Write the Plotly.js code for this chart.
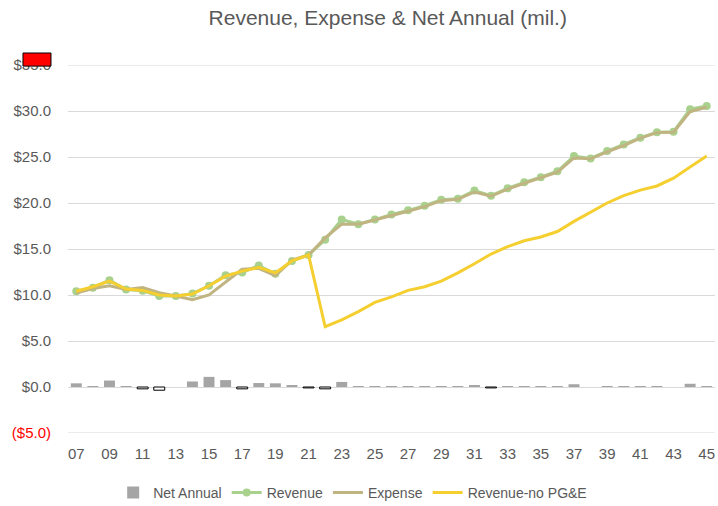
<!DOCTYPE html>
<html>
<head>
<meta charset="utf-8">
<script src="https://cdn.plot.ly/plotly-3.0.1.min.js"></script>
<style>html,body{margin:0;padding:0;background:#fff;}#chart{width:718px;height:506px;}</style>
</head>
<body>
<div id="chart"></div>
<script>
const years = ["07","08","09","10","11","12","13","14","15","16","17","18","19","20","21","22","23","24","25","26","27","28","29","30","31","32","33","34","35","36","37","38","39","40","41","42","43","44","45"];
const xTickLabels = ["07","09","11","13","15","17","19","21","23","25","27","29","31","33","35","37","39","41","43","45"];
const netAnnual = [0.4,0.1,0.7,0.05,-0.2,-0.35,0,0.6,1.1,0.75,-0.2,0.43,0.4,0.15,-0.1,-0.2,0.55,0.02,0.05,0.05,0.05,0.05,0.08,0.05,0.15,-0.1,0.08,0.08,0.05,0.05,0.3,0,0.08,0.08,0.1,0.05,0,0.35,0.08];
const revenue = [10.4,10.8,11.6,10.6,10.45,9.9,9.9,10.15,11.0,12.15,12.45,13.2,12.3,13.7,14.35,16.0,18.2,17.7,18.2,18.75,19.2,19.7,20.35,20.45,21.35,20.8,21.6,22.25,22.8,23.45,25.1,24.85,25.65,26.35,27.1,27.7,27.75,30.2,30.55];
const expense = [10.2,10.7,11.0,10.6,10.8,10.25,9.9,9.5,10.0,11.4,12.8,12.9,12.1,13.8,14.35,16.2,17.7,17.7,18.15,18.65,19.1,19.6,20.25,20.4,21.2,20.75,21.5,22.15,22.75,23.35,24.9,24.8,25.55,26.25,27.05,27.65,27.7,29.95,30.4];
const revenueNoPGE = [10.4,10.9,11.5,10.65,10.5,10.0,9.9,10.1,11.0,12.05,12.6,13.0,12.4,13.7,14.35,6.55,7.3,8.2,9.2,9.8,10.5,10.9,11.5,12.4,13.4,14.45,15.25,15.9,16.3,16.9,18.0,19.0,20.0,20.8,21.4,21.85,22.7,23.9,25.1];
const yTickVals = [-5,0,5,10,15,20,25,30,35];
const yTickText = ['<span style="color:#ff0000">($5.0)</span>','$0.0','$5.0','$10.0','$15.0','$20.0','$25.0','$30.0','$35.0'];
const yMin = -5, yMax = 35;

const barColors = netAnnual.map(v => v < 0 ? '#ffffff' : '#a5a5a5');
const barLineColors = netAnnual.map(v => v < 0 ? '#000000' : 'rgba(0,0,0,0)');
const barLineWidths = netAnnual.map(v => v < 0 ? 1 : 0);

const font = "'Liberation Sans', Arial, sans-serif";
const traces = [
  {type:'bar', name:'Net Annual', x:years, y:netAnnual,
   marker:{color:barColors, line:{color:barLineColors, width:barLineWidths}}},
  {type:'scatter', mode:'lines+markers', name:'Revenue', x:years, y:revenue,
   line:{color:'#a9d18e', width:3}, marker:{color:'#a9d18e', size:8}},
  {type:'scatter', mode:'lines', name:'Expense', x:years, y:expense,
   line:{color:'#c0b582', width:3}},
  {type:'scatter', mode:'lines', name:'Revenue-no PG&E', x:years, y:revenueNoPGE,
   line:{color:'#f5cf30', width:3}}
];

const edgeGrid = [yMin, yMax].map(v => ({type:'line', xref:'paper', yref:'y', x0:0, x1:1, y0:v, y1:v,
  layer:'below', line:{color:'#d9d9d9', width:1}}));

const layout = {
  width:718, height:506,
  margin:{l:68, r:3, t:65, b:73, autoexpand:false},
  paper_bgcolor:'#ffffff', plot_bgcolor:'#ffffff',
  font:{family:font, color:'#595959', size:15},
  title:{text:'Revenue, Expense & Net Annual (mil.)', x:0.54, xanchor:'center', y:0.965, yanchor:'middle',
         font:{family:font, size:21, color:'#595959'}},
  bargap:0.34,
  showlegend:true,
  legend:{orientation:'h', x:0.44, xanchor:'center', y:-0.163, yanchor:'middle',
          font:{family:font, size:14, color:'#595959'}, itemwidth:30, tracegroupgap:0},
  xaxis:{type:'category', range:[-0.5, 38.5], tickmode:'array', tickvals:xTickLabels, ticktext:xTickLabels,
         showgrid:false, zeroline:false, showline:false, ticks:'', ticklabelstandoff:10,
         tickfont:{family:font, size:15, color:'#595959'}},
  yaxis:{range:[yMin,yMax], tickmode:'array', tickvals:yTickVals, ticktext:yTickText,
         showgrid:true, gridcolor:'#d9d9d9', gridwidth:1, zeroline:true, zerolinecolor:'#d9d9d9', zerolinewidth:1,
         showline:false, ticks:'', ticklabelstandoff:16,
         tickfont:{family:font, size:15, color:'#595959'}},
  shapes:edgeGrid.concat([{type:'rect', xref:'paper', yref:'paper', x0:-0.0696, x1:-0.0263, y0:0.997, y1:1.0326,
           fillcolor:'#ff0000', line:{color:'#000000', width:1}}])
};

Plotly.newPlot('chart', traces, layout, {displayModeBar:false, responsive:false});
</script>
</body>
</html>
